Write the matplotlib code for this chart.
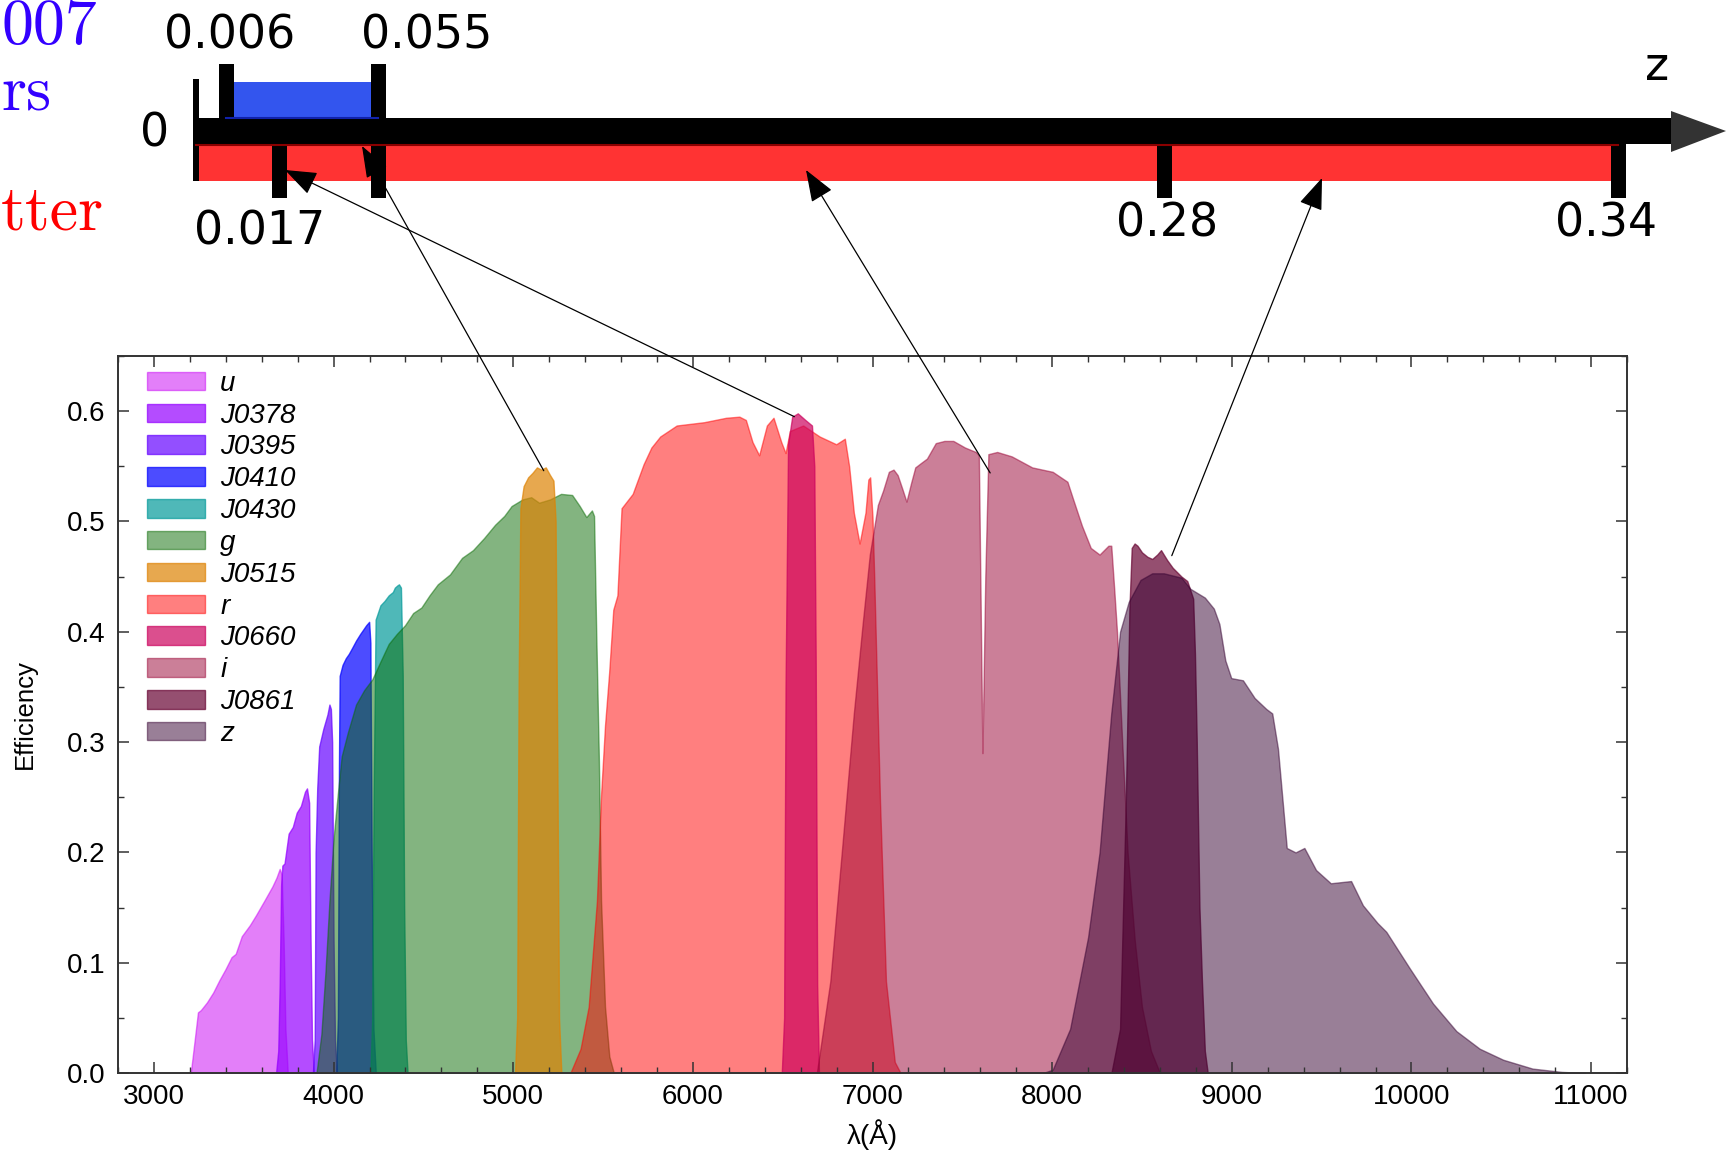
import numpy as np
import matplotlib
matplotlib.use("Agg")
import matplotlib.pyplot as plt
from matplotlib import font_manager
from matplotlib.patches import Polygon, Rectangle
from matplotlib.ticker import MultipleLocator, FormatStrFormatter

# ---- filter curves (wavelength in A, efficiency) ----
u_wl = [3205, 3227, 3245, 3261, 3295, 3330, 3364, 3398, 3432, 3455, 3489, 3534, 3568, 3614, 3659, 3682, 3700, 3711, 3722, 3732, 3745]
u_eff = [0, .03, .055, .057, .064, .073, .084, .094, .105, .108, .124, .134, .143, .156, .169, .177, .185, .18, .12, .04, 0]

j0378_wl = [3680, 3692, 3700, 3708, 3715, 3727, 3750, 3773, 3795, 3818, 3841, 3852, 3864, 3872, 3880, 3890]
j0378_eff = [0, .02, .08, .17, .188, .19, .217, .223, .236, .242, .255, .258, .245, .12, .03, 0]

j0395_wl = [3885, 3895, 3900, 3909, 3920, 3943, 3966, 3977, 3985, 3992, 4000, 4008, 4018]
j0395_eff = [0, .03, .2, .258, .296, .312, .325, .334, .33, .30, .12, .03, 0]

j0410_wl = [4015, 4024, 4030, 4034, 4050, 4068, 4085, 4102, 4125, 4148, 4165, 4182, 4198, 4205, 4212, 4222, 4235]
j0410_eff = [0, .05, .28, .36, .37, .376, .38, .385, .392, .398, .402, .406, .409, .39, .2, .04, 0]

j0430_wl = [4205, 4215, 4223, 4234, 4261, 4284, 4307, 4330, 4341, 4355, 4364, 4375, 4385, 4393, 4402, 4412]
j0430_eff = [0, .05, .25, .411, .424, .428, .433, .436, .44, .442, .443, .44, .36, .15, .03, 0]

g_wl = [3905, 3932, 3955, 3977, 4000, 4023, 4045, 4080, 4125, 4170, 4216, 4261, 4307, 4352, 4398, 4443, 4489, 4534,
        4580, 4648, 4715, 4776, 4838, 4899, 4950, 4991, 5052, 5100, 5144, 5205, 5266, 5328, 5370, 5407, 5438, 5450,
        5462, 5477, 5489, 5511, 5535, 5560]
g_eff = [0, .035, .092, .156, .213, .252, .287, .309, .334, .347, .357, .373, .389, .398, .406, .417, .422, .433,
         .443, .452, .467, .474, .485, .497, .505, .514, .52, .522, .517, .52, .525, .524, .514, .504, .51, .505,
         .4, .283, .156, .06, .015, 0]

j0515_wl = [5010, 5022, 5030, 5040, 5058, 5083, 5107, 5132, 5156, 5181, 5205, 5224, 5236, 5245, 5255, 5268]
j0515_eff = [0, .05, .35, .512, .532, .54, .544, .549, .547, .549, .542, .537, .5, .3, .05, 0]

r_wl = [5318, 5375, 5420, 5466, 5489, 5511, 5534, 5557, 5580, 5603, 5665, 5726, 5769, 5818, 5910, 6063, 6185, 6259,
        6295, 6332, 6369, 6412, 6449, 6492, 6516, 6540, 6614, 6706, 6798, 6846, 6870, 6896, 6928, 6961, 6977, 6987,
        7000, 7010, 7042, 7075, 7124, 7156]
r_eff = [0, .022, .06, .156, .252, .315, .363, .42, .433, .512, .525, .552, .567, .577, .587, .59, .594, .595,
         .592, .572, .56, .587, .594, .572, .562, .582, .587, .577, .57, .575, .55, .508, .48, .508, .538, .54,
         .504, .447, .245, .083, .01, 0]

j0660_wl = [6495, 6508, 6516, 6530, 6553, 6584, 6626, 6663, 6676, 6684, 6692, 6702]
j0660_eff = [0, .05, .35, .57, .595, .598, .592, .587, .55, .37, .08, 0]

i_wl = [6690, 6765, 6831, 6896, 6945, 6985, 7030, 7059, 7091, 7117, 7140, 7165, 7189, 7215, 7238, 7270, 7303, 7352,
        7400, 7450, 7515, 7575, 7592, 7612, 7628, 7645, 7694, 7775, 7889, 8003, 8085, 8117, 8166, 8215, 8264, 8313,
        8329, 8345, 8361, 8390, 8420, 8460, 8500, 8550, 8600]
i_eff = [0, .083, .204, .326, .407, .47, .515, .528, .545, .547, .542, .53, .518, .535, .549, .553, .557, .571,
         .573, .573, .567, .563, .56, .29, .45, .561, .563, .559, .549, .545, .536, .52, .496, .476, .47, .478,
         .478, .44, .40, .30, .20, .12, .06, .02, 0]

j0861_wl = [8330, 8378, 8410, 8430, 8443, 8459, 8475, 8500, 8530, 8557, 8585, 8606, 8640, 8671, 8720, 8752, 8785,
            8795, 8805, 8820, 8834, 8850, 8866]
j0861_eff = [0, .04, .245, .42, .476, .48, .478, .472, .468, .466, .47, .474, .465, .458, .45, .446, .43,
             .38, .30, .15, .083, .02, 0]

z_wl = [7950, 8003, 8100, 8200, 8264, 8329, 8378, 8426, 8492, 8557, 8622, 8720, 8769, 8850, 8900, 8931, 8964, 8997,
        9062, 9127, 9192, 9225, 9257, 9306, 9355, 9404, 9469, 9551, 9664, 9730, 9811, 9860, 9990, 10120, 10250,
        10380, 10511, 10674, 10837, 10967]
z_eff = [0, .003, .04, .123, .2, .326, .4, .427, .447, .453, .453, .449, .439, .431, .421, .407, .374, .358,
         .356, .34, .33, .326, .294, .204, .2, .204, .184, .172, .174, .152, .136, .128, .095, .063, .038,
         .022, .012, .004, .001, 0]

names = ['u', 'J0378', 'J0395', 'J0410', 'J0430', 'g', 'J0515', 'r', 'J0660', 'i', 'J0861', 'z']
wls = [u_wl, j0378_wl, j0395_wl, j0410_wl, j0430_wl, g_wl, j0515_wl, r_wl, j0660_wl, i_wl, j0861_wl, z_wl]
effs = [u_eff, j0378_eff, j0395_eff, j0410_eff, j0430_eff, g_eff, j0515_eff, r_eff, j0660_eff, i_eff, j0861_eff, z_eff]
colors = ['#c901f5', '#9400ff', '#6604ff', '#0000ff', '#059a9a', '#096b03', '#de8305', '#ff0101',
          '#cc045e', '#990133', '#680533', '#350131']
alphas = [0.5, 0.7, 0.7, 0.7, 0.7, 0.5, 0.7, 0.5, 0.7, 0.5, 0.7, 0.5]

# redshift ranges shown on the schematic axis
z_labels = ['0', '0.006', '0.017', '0.055', '0.28', '0.34']
blue_range = ('0.006', '0.055')
red_range = ('0', '0.34')
# points on the curves the arrows start from (wavelength, efficiency)
arrow_from = [(5170, 0.546), (6565, 0.595), (7655, 0.544), (8666, 0.469)]
# visible ends of the cropped captions on the left
side_texts = ['007', 'rs', 'tter']
side_colors = ['#3300ff', '#3300ff', '#ff0000']


def have_font(name):
    try:
        font_manager.findfont(font_manager.FontProperties(family=name), fallback_to_default=False)
        return True
    except Exception:
        return False


narrow = have_font('Liberation Sans Narrow')

W, H = 1726, 1150
fig = plt.figure(figsize=(W / 100, H / 100), dpi=100)
ax = fig.add_axes([118 / W, 1 - 1073 / H, 1509 / W, 717 / H])

for name, wl, ef, c, a in zip(names, wls, effs, colors, alphas):
    ax.fill_between(wl, 0, ef, facecolor=c, edgecolor=c, alpha=a, lw=1.0, label=name)

ax.set_xlim(2800, 11200)
ax.set_ylim(0, 0.65)
ax.xaxis.set_major_locator(MultipleLocator(1000))
ax.xaxis.set_minor_locator(MultipleLocator(200))
ax.yaxis.set_major_locator(MultipleLocator(0.1))
ax.yaxis.set_minor_locator(MultipleLocator(0.05))
ax.yaxis.set_major_formatter(FormatStrFormatter('%.1f'))
ax.tick_params(which='both', direction='in', top=True, right=True, color='#333333')
ax.tick_params(which='major', length=8, width=1.1)
ax.tick_params(which='minor', length=4, width=1.0)
ax.tick_params(axis='y', labelsize=20, pad=9)
ax.tick_params(axis='x', labelsize=23 if narrow else 20, pad=8)
for lab in ax.get_xticklabels():
    lab.set_family('Liberation Sans Narrow' if narrow else 'Liberation Sans')
for lab in ax.get_yticklabels():
    lab.set_family('Liberation Sans')
for s in ax.spines.values():
    s.set_color('#333333')
    s.set_linewidth(1.4)

ax.set_xlabel('λ(Å)', fontsize=20, family='Liberation Sans Narrow' if narrow else 'Liberation Sans')
ax.set_ylabel('Efficiency', fontsize=18.5, family='Liberation Sans')
ax.xaxis.set_label_coords(0.5, -0.064)
ax.yaxis.set_label_coords(-0.054, 0.5)

leg = ax.legend(loc='upper left', bbox_to_anchor=(0.012, 0.995), frameon=False,
                prop={'family': 'Liberation Sans', 'style': 'italic', 'size': 20},
                handlelength=2.09, handleheight=0.65, handletextpad=0.54, labelspacing=0.21,
                borderpad=0.4, borderaxespad=0)

# ---- schematic z axis drawn in figure pixel units ----
top = fig.add_axes([0, 0, 1, 1], zorder=5)
top.set_xlim(0, W)
top.set_ylim(H, 0)
top.axis('off')

z_px = [196, 226, 279, 378, 1164, 1618]          # layout of the schematic ticks
tick_span = [(79, 181), (64, 119), (143, 198), (64, 198), (143, 198), (143, 198)]
label_xy = [(155, 134), (230, 36), (260, 232), (427, 36), (1167, 224), (1606, 224)]
xpos = dict(zip(z_labels, z_px))

# red range bar
r0, r1 = xpos[red_range[0]], xpos[red_range[1]]
top.add_patch(Rectangle((r0, 144), r1 - r0, 37, color='#ff3333', lw=0))
top.plot([r0, r1], [144.5, 144.5], color='#8a0000', lw=1.5)
# blue range bar
b0, b1 = xpos[blue_range[0]], xpos[blue_range[1]]
top.add_patch(Rectangle((b0, 82), b1 - b0, 36, color='#3355ee', lw=0))
top.plot([b0, b1], [117.5, 117.5], color='#1122aa', lw=1.5)
# main black axis with arrow head
top.add_patch(Rectangle((196, 118), 1671 - 196, 26, color='black', lw=0))
top.add_patch(Polygon([(1671, 111), (1726, 131), (1671, 152)], closed=True, color='#333333', lw=0))

for lab, x, (y0, y1), (lx, ly) in zip(z_labels, z_px, tick_span, label_xy):
    w = 6 if lab == '0' else 15
    top.add_patch(Rectangle((x - w / 2, y0), w, y1 - y0, color='black', lw=0))
    top.text(lx, ly, lab, fontsize=33, ha='center', va='center', family='DejaVu Sans')
top.text(1657, 68, 'z', fontsize=33, ha='center', va='center', family='DejaVu Sans')

# cropped side captions (only their right ends are visible)
for txt, c, (tx, ty) in zip(side_texts, side_colors, [(1, 44), (1, 110), (1, 229)]):
    top.text(tx, ty, txt, fontsize=46, ha='left', va='baseline', family='cmr10', color=c)

arrow_to = [(362, 146), (285, 170), (806, 170), (1322, 178)]
for (wl, ef), (hx, hy) in zip(arrow_from, arrow_to):
    top.annotate('', xy=(hx, hy), xycoords='data', xytext=(wl, ef), textcoords=ax.transData,
                 arrowprops=dict(arrowstyle='-|>,head_length=0.4,head_width=0.15', mutation_scale=50,
                                 lw=0.9, color='black', shrinkA=0, shrinkB=0),
                 annotation_clip=False)

fig.savefig('out.png', dpi=100)
